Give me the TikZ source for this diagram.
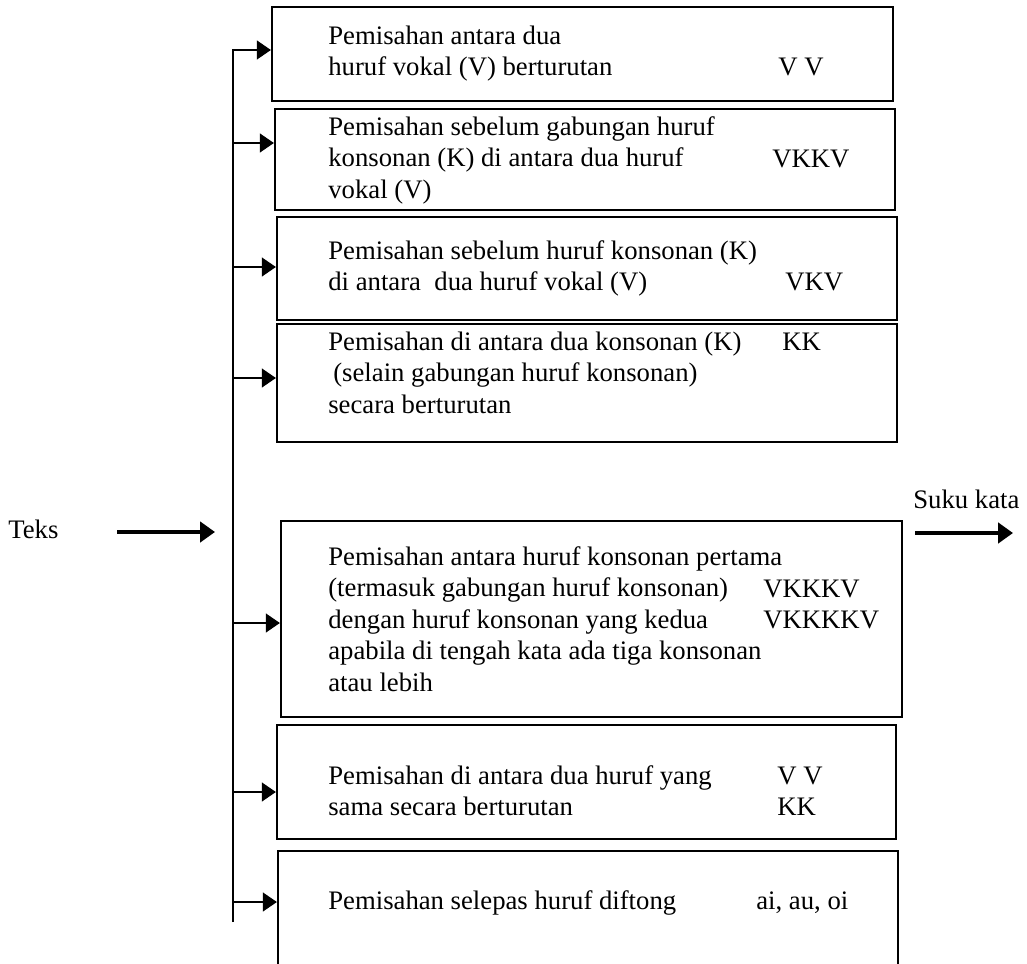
\documentclass[tikz,border=0pt]{standalone}
\usepackage{fontspec}
\setmainfont{Liberation Serif}
\usetikzlibrary{arrows.meta,fit}

\begin{document}
\begin{tikzpicture}[x=0.02cm,y=-0.02cm,
  every node/.style={font=\fontsize{15.2}{17.9}\selectfont,inner sep=0pt},
  box/.style={draw,line width=1.2pt,inner sep=0pt},
  txt/.style={anchor=base west,align=left},
  arr/.style={line width=1.6pt,-{Triangle[length=8pt,width=10.5pt]}},
  bigarr/.style={line width=2.4pt,-{Triangle[length=8.5pt,width=11.5pt]}}]
  \useasboundingbox (0,0) rectangle (1027,963);
  \clip (0,0) rectangle (1027,963);
  % kotak aturan
  \node[box,fit={(272,7) (893,101)}] (b1) {};
  \node[box,fit={(275,109) (895,210)}] (b2) {};
  \node[box,fit={(277,217) (897,320)}] (b3) {};
  \node[box,fit={(277,324) (897,442)}] (b4) {};
  \node[box,fit={(281,521) (902,717)}] (b5) {};
  \node[box,fit={(277,725) (896,839)}] (b6) {};
  \node[box,fit={(278,851) (898,975)}] (b7) {};
  % teks dalam kotak (y = garis dasar baris terakhir)
  \node[txt] (t1) at (328,75.5) {Pemisahan antara dua\\huruf vokal (V) berturutan};
  \node[txt] (c1) at (778,75) {V V};
  \node[txt] (t2) at (328,198) {Pemisahan sebelum gabungan huruf\\konsonan (K) di antara dua huruf\\vokal (V)};
  \node[txt] (c2) at (772,167) {VKKV};
  \node[txt] (t3) at (328,290.5) {Pemisahan sebelum huruf konsonan (K)\\di antara\ \ dua huruf vokal (V)};
  \node[txt] (c3) at (785,290) {VKV};
  \node[txt] (t4) at (328,413) {Pemisahan di antara dua konsonan (K)\\\hspace*{0.1cm}(selain gabungan huruf konsonan)\\secara berturutan};
  \node[txt] (c4) at (782,350) {KK};
  \node[txt] (t5) at (328,691) {Pemisahan antara huruf konsonan pertama\\(termasuk gabungan huruf konsonan)\\dengan huruf konsonan yang kedua\\apabila di tengah kata ada tiga konsonan\\atau lebih};
  \node[txt] (c5) at (763,628.5) {VKKKV\\VKKKKV};
  \node[txt] (t6) at (328,815.5) {Pemisahan di antara dua huruf yang\\sama secara berturutan};
  \node[txt] (c6) at (777,815.5) {V V\\KK};
  \node[txt] (t7) at (328,909) {Pemisahan selepas huruf diftong};
  \node[txt] (c7) at (756,909) {ai, au, oi};
  % masukan dan keluaran
  \node[txt] (teks) at (8,538) {Teks};
  \node[txt] (suku) at (913,508) {Suku kata};
  \coordinate (in1) at (117,532);
  \coordinate (in2) at (215,532);
  \coordinate (out1) at (915,533);
  \coordinate (out2) at (1013,533);
  \draw[bigarr] (in1) -- (in2);
  \draw[bigarr] (out1) -- (out2);
  % batang dan cabang
  \coordinate (top) at (233,50);
  \coordinate (bot) at (233,922);
  \draw[arr] (bot) -- (top) -- (top -| b1.west);
  \foreach \b/\y in {b2/143,b3/267,b4/378,b5/623,b6/792,b7/902}{
    \coordinate (s\b) at (233,\y);
    \draw[arr] (s\b) -- (s\b -| \b.west);
  }
\end{tikzpicture}
\end{document}
